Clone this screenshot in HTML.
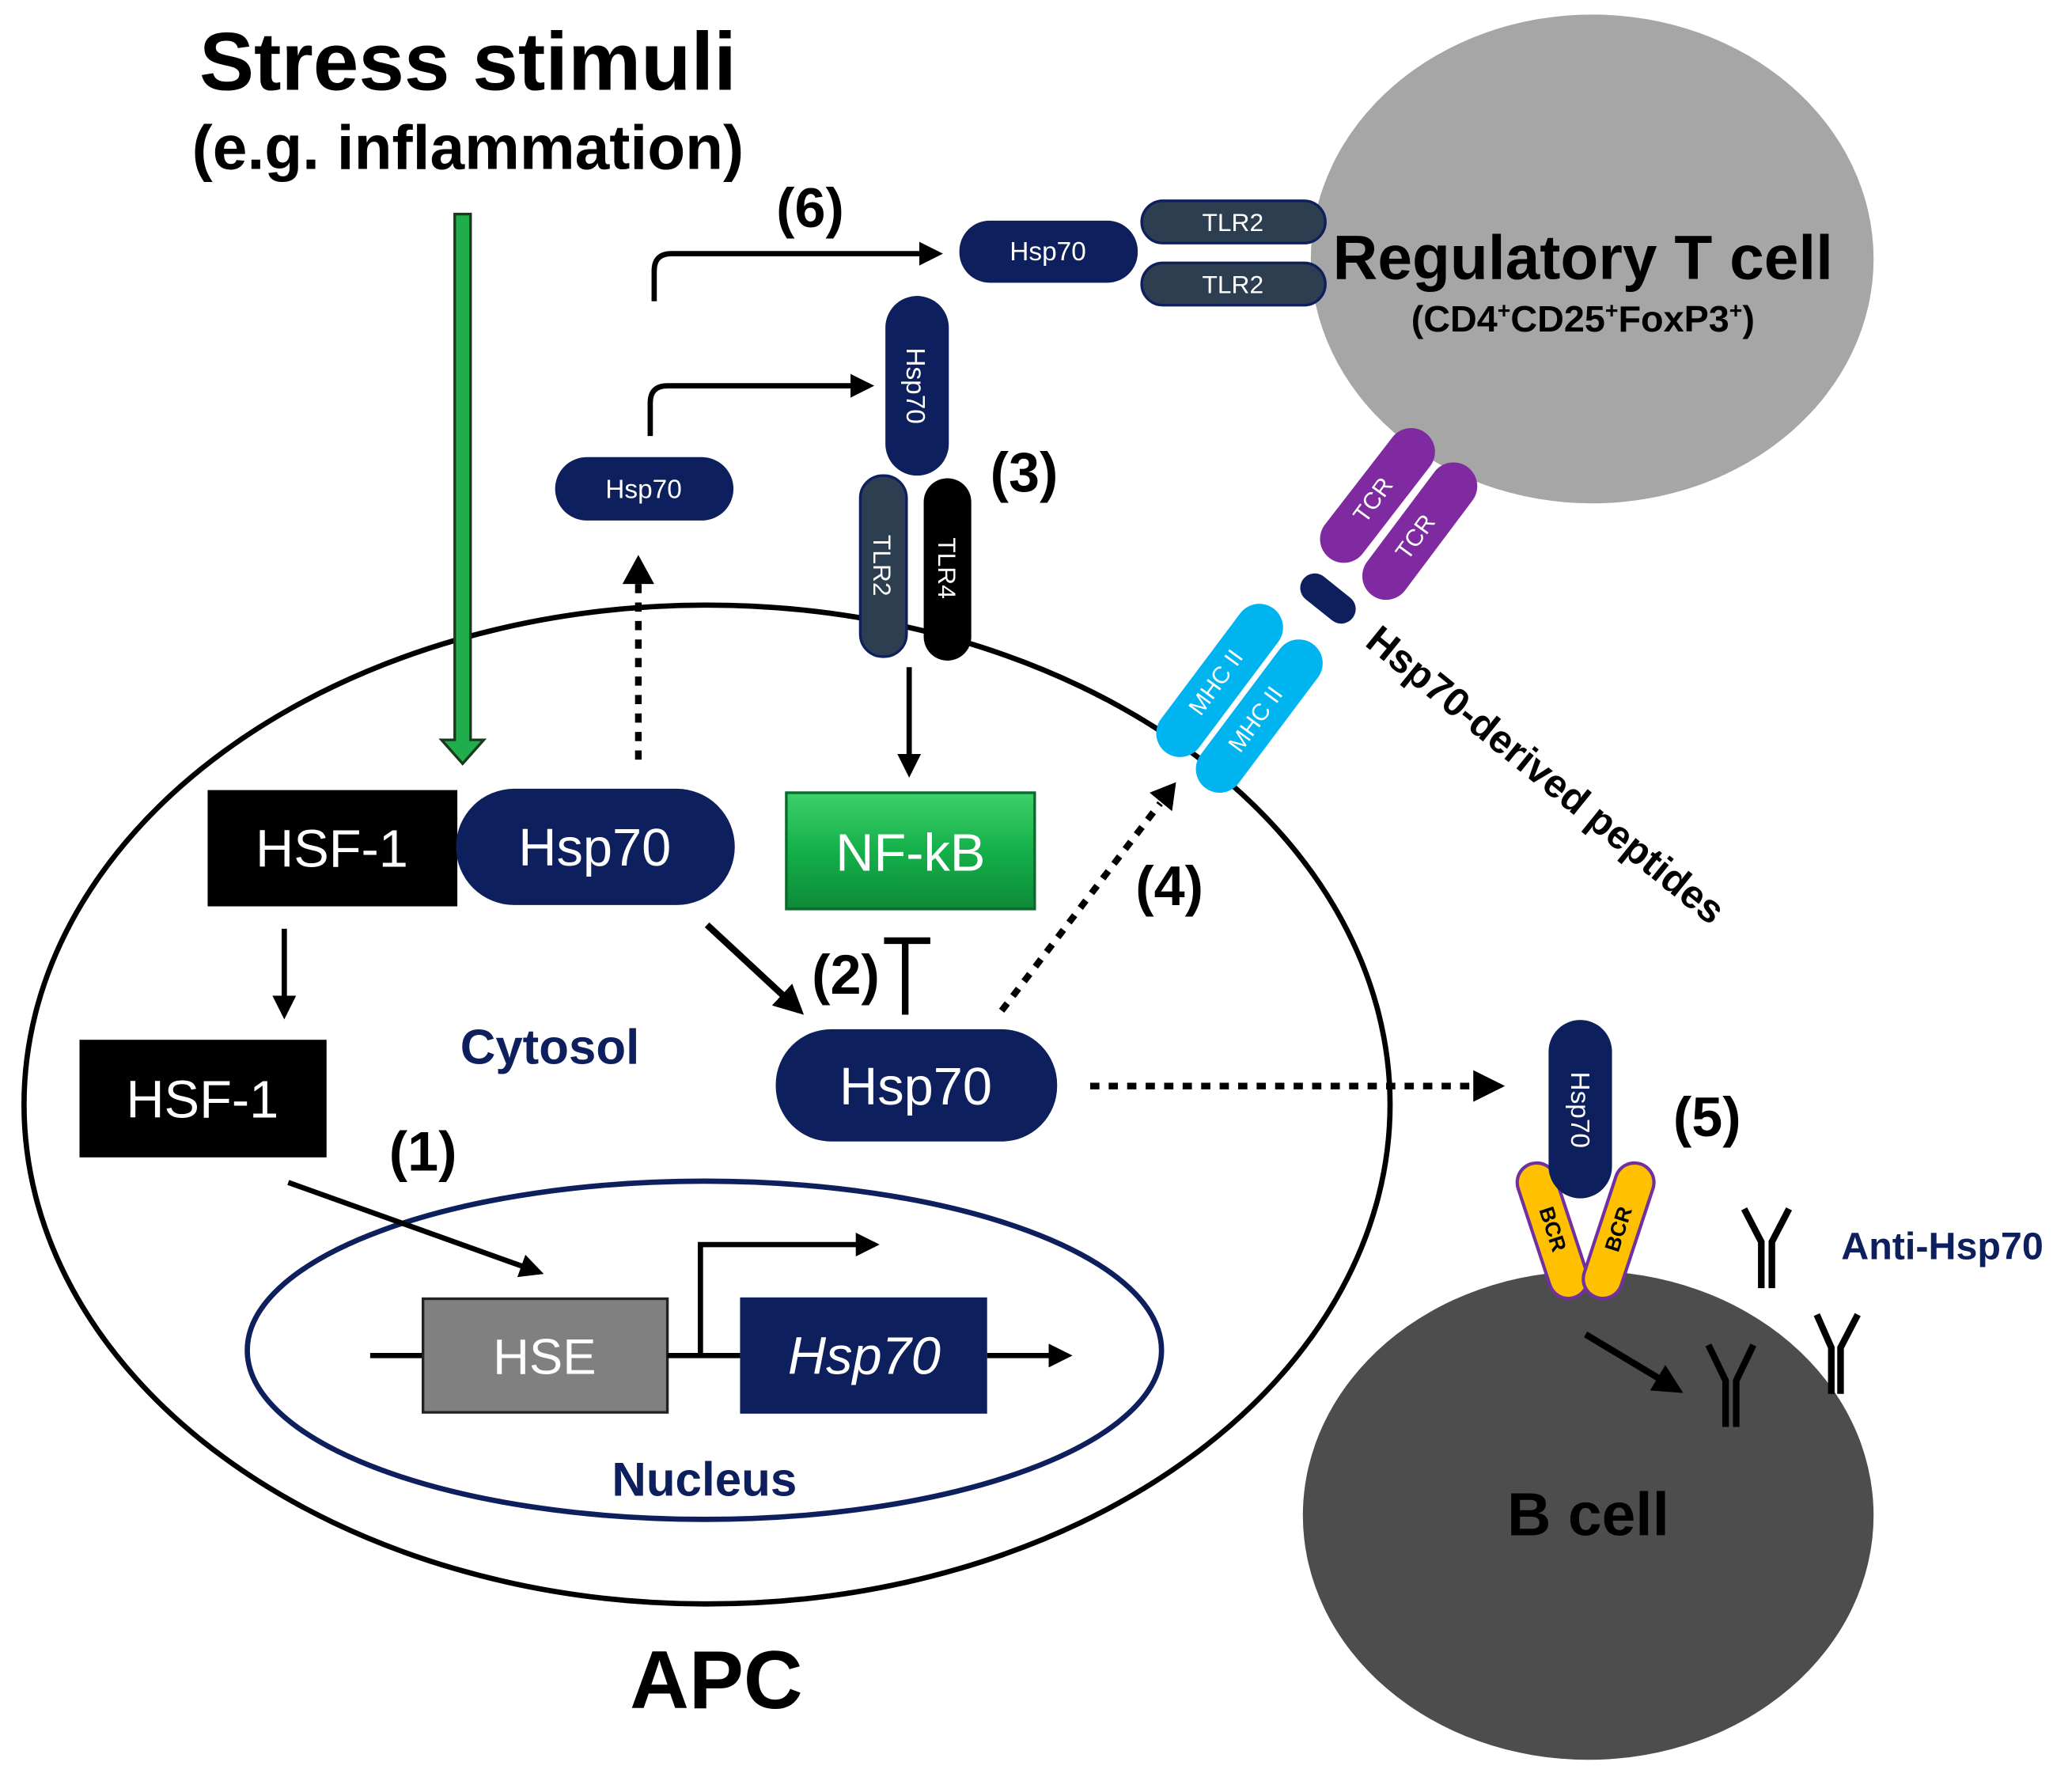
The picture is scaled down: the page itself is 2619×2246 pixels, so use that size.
<!DOCTYPE html>
<html><head><meta charset="utf-8"><style>html,body{margin:0;padding:0;background:#fff}svg{display:block}</style></head>
<body>
<svg width="2619" height="2246" viewBox="0 0 1568 1345" xmlns="http://www.w3.org/2000/svg" font-family="Liberation Sans, sans-serif">
<defs>
<marker id="ah" viewBox="0 0 10 10" refX="8" refY="5" markerWidth="4.5" markerHeight="4.5" orient="auto"><path d="M0,0 L10,5 L0,10 z" fill="#000"/></marker>
<linearGradient id="gn" x1="0" y1="0" x2="0" y2="1"><stop offset="0" stop-color="#3fd06a"/><stop offset="0.5" stop-color="#14b04a"/><stop offset="1" stop-color="#0e8a38"/></linearGradient>
</defs>
<rect width="1568" height="1345" fill="#fff"/>
<ellipse cx="1205" cy="196" rx="213" ry="185" fill="#a6a6a6"/>
<ellipse cx="1202" cy="1147" rx="216" ry="185" fill="#4d4d4d"/>
<ellipse cx="535" cy="836" rx="517" ry="378" fill="none" stroke="#000" stroke-width="4"/>
<ellipse cx="533" cy="1022" rx="346" ry="128" fill="none" stroke="#0d1f5c" stroke-width="4"/>

<text x="354" y="68" font-size="62" font-weight="bold" text-anchor="middle">Stress stimuli</text>
<text x="354" y="128" font-size="47" font-weight="bold" text-anchor="middle">(e.g. inflammation)</text>

<path d="M344,162 L356,162 L356,560 L366,560 L350,578 L334,560 L344,560 Z" fill="#1fae4b" stroke="#1a3a1f" stroke-width="2"/>

<rect x="157" y="598" width="189" height="88" fill="#000"/>
<text x="251" y="656" font-size="40" fill="#fff" text-anchor="middle">HSF-1</text>
<rect x="345" y="597" width="211" height="88" rx="44" fill="#0d1f5c"/>
<text x="450" y="655" font-size="40" fill="#fff" text-anchor="middle">Hsp70</text>
<line x1="215" y1="703" x2="215" y2="768" stroke="#000" stroke-width="4" marker-end="url(#ah)"/>
<rect x="60" y="787" width="187" height="89" fill="#000"/>
<text x="153" y="846" font-size="40" fill="#fff" text-anchor="middle">HSF-1</text>
<text x="320" y="886" font-size="42" font-weight="bold" text-anchor="middle">(1)</text>
<line x1="218" y1="895" x2="408" y2="963" stroke="#000" stroke-width="4" marker-end="url(#ah)"/>

<line x1="280" y1="1026" x2="320" y2="1026" stroke="#000" stroke-width="4"/>
<rect x="320" y="983" width="185" height="86" fill="#808080" stroke="#222" stroke-width="2"/>
<text x="412" y="1040" font-size="38" fill="#fff" text-anchor="middle">HSE</text>
<line x1="505" y1="1026" x2="560" y2="1026" stroke="#000" stroke-width="4"/>
<path d="M530,1026 L530,942 L662,942" fill="none" stroke="#000" stroke-width="4" marker-end="url(#ah)"/>
<rect x="560" y="982" width="187" height="88" fill="#0d1f5c"/>
<text x="654" y="1040" font-size="40" font-style="italic" fill="#fff" text-anchor="middle">Hsp70</text>
<line x1="747" y1="1026" x2="808" y2="1026" stroke="#000" stroke-width="4" marker-end="url(#ah)"/>
<text x="533" y="1132" font-size="36" font-weight="bold" fill="#0d1f5c" text-anchor="middle">Nucleus</text>
<text x="416" y="805" font-size="37" font-weight="bold" fill="#0d1f5c" text-anchor="middle">Cytosol</text>

<line x1="483" y1="575" x2="483" y2="425" stroke="#000" stroke-width="5" stroke-dasharray="7,7"/>
<path d="M471,442 L483,420 L495,442 Z" fill="#000"/>
<rect x="420" y="346" width="135" height="48" rx="24" fill="#0d1f5c"/>
<text x="487" y="377" font-size="20" fill="#fff" text-anchor="middle">Hsp70</text>
<path d="M492,330 L492,305 Q492,292 505,292 L658,292" fill="none" stroke="#000" stroke-width="4" marker-end="url(#ah)"/>

<rect x="670" y="224" width="48" height="136" rx="24" fill="#0d1f5c"/>
<text transform="translate(686,292) rotate(90)" font-size="20" fill="#fff" text-anchor="middle">Hsp70</text>
<rect x="651" y="360" width="35" height="137" rx="17" fill="#2d3e50" stroke="#0d1f5c" stroke-width="2"/>
<text transform="translate(661,428) rotate(90)" font-size="19" fill="#fff" text-anchor="middle">TLR2</text>
<rect x="699" y="362" width="36" height="138" rx="18" fill="#000"/>
<text transform="translate(710,430) rotate(90)" font-size="19" fill="#fff" text-anchor="middle">TLR4</text>
<text x="775" y="372" font-size="42" font-weight="bold" text-anchor="middle">(3)</text>
<line x1="688" y1="505" x2="688" y2="585" stroke="#000" stroke-width="4" marker-end="url(#ah)"/>
<rect x="595" y="600" width="188" height="88" fill="url(#gn)" stroke="#0a6a2a" stroke-width="2"/>
<text x="689" y="659" font-size="40" fill="#fff" text-anchor="middle">NF-kB</text>

<line x1="535" y1="700" x2="605" y2="765" stroke="#000" stroke-width="5" marker-end="url(#ah)"/>
<text x="640" y="752" font-size="42" font-weight="bold" text-anchor="middle">(2)</text>
<line x1="685" y1="712" x2="685" y2="768" stroke="#000" stroke-width="5"/>
<line x1="669" y1="712" x2="704" y2="712" stroke="#000" stroke-width="5"/>
<rect x="587" y="779" width="213" height="85" rx="42" fill="#0d1f5c"/>
<text x="693" y="836" font-size="40" fill="#fff" text-anchor="middle">Hsp70</text>

<line x1="758" y1="765" x2="878" y2="608" stroke="#000" stroke-width="5" stroke-dasharray="7,7"/>
<path d="M870,600 L890,592 L887,614 Z" fill="#000"/>
<text x="885" y="685" font-size="42" font-weight="bold" text-anchor="middle">(4)</text>
<line x1="825" y1="822" x2="1122" y2="822" stroke="#000" stroke-width="5" stroke-dasharray="7,7"/>
<path d="M1115,810 L1139,822 L1115,834 Z" fill="#000"/>

<text x="613" y="172" font-size="42" font-weight="bold" text-anchor="middle">(6)</text>
<path d="M495,228 L495,205 Q495,192 508,192 L710,192" fill="none" stroke="#000" stroke-width="4" marker-end="url(#ah)"/>
<rect x="726" y="167" width="135" height="47" rx="23" fill="#0d1f5c"/>
<text x="793" y="197" font-size="20" fill="#fff" text-anchor="middle">Hsp70</text>
<rect x="864" y="152" width="139" height="32" rx="16" fill="#2d3e50" stroke="#0d1f5c" stroke-width="2"/>
<text x="933" y="175" font-size="19" fill="#fff" text-anchor="middle">TLR2</text>
<rect x="864" y="199" width="139" height="32" rx="16" fill="#2d3e50" stroke="#0d1f5c" stroke-width="2"/>
<text x="933" y="222" font-size="19" fill="#fff" text-anchor="middle">TLR2</text>
<text x="1198" y="211" font-size="47" font-weight="bold" text-anchor="middle">Regulatory T cell</text>
<text x="1198" y="251" font-size="28" font-weight="bold" text-anchor="middle">(CD4<tspan font-size="17" dy="-10">+</tspan><tspan dy="10">CD25</tspan><tspan font-size="17" dy="-10">+</tspan><tspan dy="10">FoxP3</tspan><tspan font-size="17" dy="-10">+</tspan><tspan dy="10">)</tspan></text>

<line x1="1017" y1="408" x2="1068" y2="342" stroke="#7f2aa0" stroke-width="36" stroke-linecap="round"/>
<text transform="translate(1044,382) rotate(-54)" font-size="18" fill="#fff" text-anchor="middle">TCR</text>
<line x1="1049" y1="436" x2="1100" y2="368" stroke="#7f2aa0" stroke-width="36" stroke-linecap="round"/>
<text transform="translate(1076,410) rotate(-54)" font-size="18" fill="#fff" text-anchor="middle">TCR</text>
<line x1="995" y1="445" x2="1015" y2="461" stroke="#0d1f5c" stroke-width="22" stroke-linecap="round"/>
<line x1="893" y1="555" x2="953" y2="475" stroke="#00b4f0" stroke-width="36" stroke-linecap="round"/>
<text transform="translate(925,520) rotate(-54)" font-size="18" fill="#fff" text-anchor="middle">MHC II</text>
<line x1="923" y1="582" x2="983" y2="502" stroke="#00b4f0" stroke-width="36" stroke-linecap="round"/>
<text transform="translate(955,548) rotate(-54)" font-size="18" fill="#fff" text-anchor="middle">MHC II</text>
<text transform="translate(1032,488) rotate(39)" font-size="30" font-weight="bold">Hsp70-derived peptides</text>

<line x1="1163" y1="895" x2="1187" y2="968" stroke="#7030a0" stroke-width="32" stroke-linecap="round"/>
<line x1="1163" y1="895" x2="1187" y2="968" stroke="#ffc000" stroke-width="27" stroke-linecap="round"/>
<text transform="translate(1170,932) rotate(72)" font-size="16" font-weight="bold" text-anchor="middle">BCR</text>
<line x1="1237" y1="895" x2="1213" y2="968" stroke="#7030a0" stroke-width="32" stroke-linecap="round"/>
<line x1="1237" y1="895" x2="1213" y2="968" stroke="#ffc000" stroke-width="27" stroke-linecap="round"/>
<text transform="translate(1230,932) rotate(-72)" font-size="16" font-weight="bold" text-anchor="middle">BCR</text>
<rect x="1172" y="772" width="48" height="135" rx="24" fill="#0d1f5c"/>
<text transform="translate(1189,840) rotate(90)" font-size="20" fill="#fff" text-anchor="middle">Hsp70</text>
<text x="1292" y="860" font-size="42" font-weight="bold" text-anchor="middle">(5)</text>
<text x="1470" y="953" font-size="29" font-weight="bold" fill="#0d1f5c" text-anchor="middle">Anti-Hsp70</text>
<g stroke="#000" stroke-width="5" fill="none">
<path d="M1320,915 L1333,940 L1333,975 M1341,975 L1341,940 L1354,915"/>
<path d="M1293,1018 L1306,1045 L1306,1080 M1314,1080 L1314,1045 L1327,1018"/>
<path d="M1375,995 L1386,1020 L1386,1055 M1393,1055 L1393,1020 L1406,995"/>
</g>
<line x1="1200" y1="1010" x2="1270" y2="1052" stroke="#000" stroke-width="5" marker-end="url(#ah)"/>
<text x="1202" y="1162" font-size="46" font-weight="bold" text-anchor="middle">B cell</text>
<text x="542" y="1293" font-size="62" font-weight="bold" text-anchor="middle">APC</text>
</svg>
</body></html>
